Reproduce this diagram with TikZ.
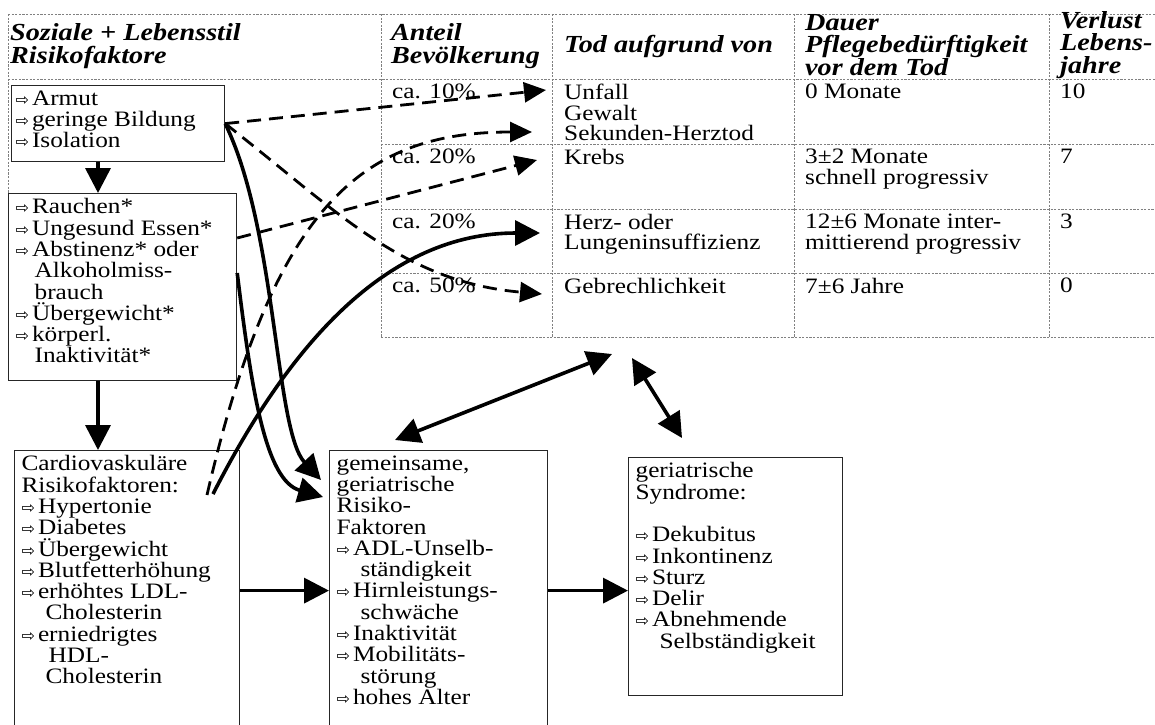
\documentclass[tikz,border=0pt]{standalone}
\usepackage{fontspec}
\setmainfont{Liberation Serif}[FakeStretch=1.15]
\newfontfamily\arrfont{DejaVu Sans}
\usetikzlibrary{positioning,calc,arrows.meta}

\newcommand{\pf}{{\arrfont\fontsize{16}{16}\selectfont ⇨}\hspace{3pt}}
\newcommand{\ci}{\hspace*{19pt}}
\newcommand{\boxtxt}[3]{\parbox[t][#1][t]{#2}{#3}}

\begin{document}
\begin{tikzpicture}[x=1pt,y=-1pt,>={Triangle[length=25pt,width=25pt]},
		body/.style={font={\fontsize{22}{21.3}\selectfont}},
		box/.style={draw=black!85,line width=1.2pt,fill=white,anchor=north west,inner xsep=7pt,inner ysep=5pt,body},
		head/.style={anchor=west,inner sep=0pt,align=left,font={\fontsize{24.5}{22.5}\selectfont\bfseries\itshape}},
		cell/.style={anchor=north west,inner sep=0pt,align=left,font={\fontsize{22}{20.5}\selectfont}},
		grid/.style={gray,line width=0.9pt,dash pattern=on 2.2pt off 1.4pt},
		conn/.style={line width=3.6pt},
		dconn/.style={line width=2.8pt,dash pattern=on 14pt off 8pt,-{Triangle[length=22pt,width=20pt]}},
	]
	\useasboundingbox (0,0) rectangle (1155,724);

	% table
	\draw[grid] (8,14) -- (1160,14) (8,79) -- (1160,79) (8,14) -- (8,337);
	\foreach \y in {144,209,273,337} \draw[grid] (381,\y) -- (1160,\y);
	\foreach \x in {381,552,794,1049} \draw[grid] (\x,14) -- (\x,337);

	\node[head] (h1) at (10,46) {Soziale + Lebensstil\\Risikofaktore};
	\node[head] (h2) at (391,46) {Anteil\\Bevölkerung};
	\node[head] (h3) at (564,46) {Tod aufgrund von};
	\node[head] (h4) at (805,45) {Dauer\\Pflegebedürftigkeit\\vor dem Tod};
	\node[head] (h5) at (1060,45) {Verlust\\Lebens-\\jahre};

	\node[cell] (a1) at (392,84) {ca. 10\%};
	\node[cell] (t1) at (564,84) {Unfall\\Gewalt\\Sekunden-Herztod};
	\node[cell] (d1) at (805,84) {0 Monate};
	\node[cell] (v1) at (1060,84) {10};
	\node[cell] (a2) at (392,149) {ca. 20\%};
	\node[cell] (t2) at (564,149) {Krebs};
	\node[cell] (d2) at (805,149) {3±2 Monate\\schnell progressiv};
	\node[cell] (v2) at (1060,149) {7};
	\node[cell] (a3) at (392,214) {ca. 20\%};
	\node[cell] (t3) at (564,214) {Herz- oder\\Lungeninsuffizienz};
	\node[cell] (d3) at (805,214) {12±6 Monate inter-\\mittierend progressiv};
	\node[cell] (v3) at (1060,214) {3};
	\node[cell] (a4) at (392,278) {ca. 50\%};
	\node[cell] (t4) at (564,278) {Gebrechlichkeit};
	\node[cell] (d4) at (805,278) {7±6 Jahre};
	\node[cell] (v4) at (1060,278) {0};

	% boxes
	\node[box,inner xsep=4pt] (armut) at (11,85) {\boxtxt{66pt}{205pt}{\pf Armut\\\pf geringe Bildung\\\pf Isolation}};
	\node[box] (rauchen) at (8,193) {\boxtxt{177pt}{214pt}{\pf Rauchen*\\\pf Ungesund Essen*\\\pf Abstinenz* oder\\\ci Alkoholmiss-\\\ci brauch\\\pf Übergewicht*\\\pf körperl.\\\ci Inaktivität*}};
	\node[box] (cardio) at (14,450) {\boxtxt{270pt}{211pt}{Cardiovaskuläre\\Risikofaktoren:\\\pf Hypertonie\\\pf Diabetes\\\pf Übergewicht\\\pf Blutfetterhöhung\\\pf erhöhtes LDL-\\\ci\hspace*{5pt}Cholesterin\\\pf erniedrigtes\\\ci\hspace*{8pt}HDL-\\\ci\hspace*{5pt}Cholesterin}};
	\node[box] (gemein) at (329,450) {\boxtxt{270pt}{204pt}{gemeinsame,\\geriatrische\\Risiko-\\Faktoren\\\pf ADL-Unselb-\\\ci\hspace*{5pt}ständigkeit\\\pf Hirnleistungs-\\\ci\hspace*{5pt}schwäche\\\pf Inaktivität\\\pf Mobilitäts-\\\ci\hspace*{5pt}störung\\\pf hohes Alter}};
	\node[box] (syndr) at (628,457) {\boxtxt{228pt}{200pt}{geriatrische\\Syndrome:\\[21.3pt]\pf Dekubitus\\\pf Inkontinenz\\\pf Sturz\\\pf Delir\\\pf Abnehmende\\\ci\hspace*{5pt}Selbständigkeit}};

	\coordinate (z1) at (612,354);
	\coordinate (z2) at (632,358);

	\path[->,conn]
		([xshift=87pt]armut.south west) edge ([xshift=90pt]rauchen.north west)
		([xshift=90pt]rauchen.south west) edge ([xshift=84pt]cardio.north west)
		(cardio) edge (gemein)
		(gemein.east) edge (gemein.east -| syndr.west)
		(armut.east) edge[out=-64,in=133,out looseness=0.82,in looseness=0.47] ($(gemein.north west)+(-8,30)$)
		($(rauchen.north east)+(0,80)$) edge[out=-83,in=164,out looseness=1.25,in looseness=0.64] ($(gemein.north west)+(-6,47)$)
		($(cardio.north west)+(199,44)$) edge[out=63,in=180,out looseness=1.05,in looseness=0.92] ($(t3.north west)+(-24,19)$)
	;
	\path[<->,conn]
		($(gemein.north west)+(66,-10)$) edge (z1)
		(z2) edge ($(syndr.north west)+(54,-19)$)
	;
	\path[dconn]
		(armut.east) edge ($(t1.north west)+(-18,6)$)
		(armut.east) edge[out=-38,in=175] ($(t4.north west)+(-22,16)$)
		($(rauchen.north east)+(0,45)$) edge ($(t2.north west)+(-27,11)$)
		($(cardio.north west)+(193,45)$) edge[out=77,in=180,out looseness=1.55,in looseness=0.9] ($(t1.north west)+(-32,48)$)
	;
\end{tikzpicture}
\end{document}
